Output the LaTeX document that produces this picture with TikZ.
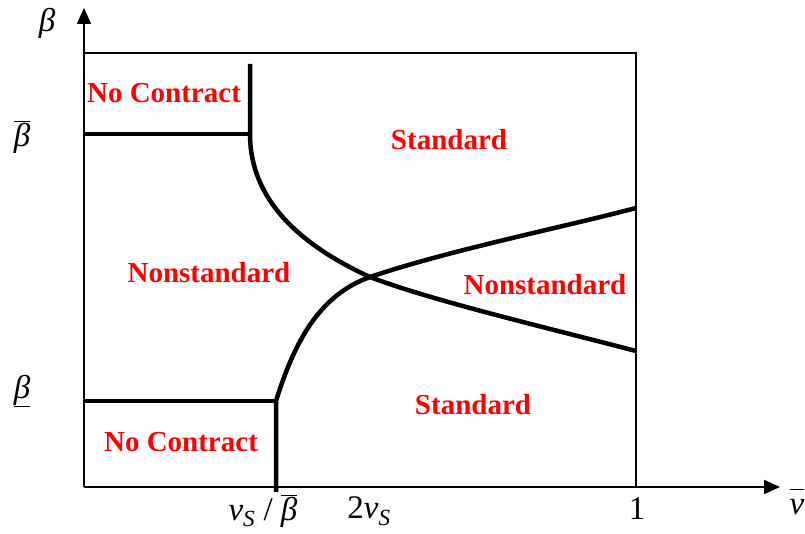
\documentclass[tikz,border=0pt]{standalone}
\usepackage{fontspec}
\setmainfont{Liberation Serif}
\usetikzlibrary{arrows.meta}

\newcommand{\bsym}{\textit{β}}

\begin{document}
\begin{tikzpicture}[x=1pt, y=-1pt,
    region/.style={text=red, inner sep=0pt, font=\fontsize{29}{31}\selectfont\bfseries},
    axlabel/.style={inner sep=0pt, font=\fontsize{33}{35}\selectfont},
    frame/.style={line width=2pt},
    border/.style={line width=4.5pt}]
    \useasboundingbox (0,0) rectangle (805,534);

    % Coordinates
    \coordinate (origin) at (84,487);
    \coordinate (ytip) at (84,8);
    \coordinate (xtip) at (780,487);
    \coordinate (topleft) at (84,53);
    \coordinate (topright) at (636,53);
    \coordinate (botright) at (636,487);
    \coordinate (hiL) at (84,134);
    \coordinate (hiC) at (250,134);
    \coordinate (hiT) at (250,64);
    \coordinate (loL) at (84,401);
    \coordinate (loC) at (276,401);
    \coordinate (loB) at (276,492);
    \coordinate (cross) at (370,277);
    \coordinate (endlow) at (636,351);
    \coordinate (endhigh) at (636,208);

    % Nodes
    \node[region] (nocontracthi) at (164,93) {No Contract};
    \node[region] (standardhi) at (449,140) {Standard};
    \node[region] (nonstdleft) at (209,273) {Nonstandard};
    \node[region] (nonstdright) at (545,285) {Nonstandard};
    \node[region] (standardlo) at (473,405) {Standard};
    \node[region] (nocontractlo) at (181,442) {No Contract};

    \node[axlabel] (ylab) at (47,23) {\bsym};
    \node[axlabel] (betahi) at (22,137) {$\overline{\hbox{\bsym}}$};
    \node[axlabel] (betalo) at (22,391) {\underline{\bsym}};
    \node[axlabel] (vsratio) at (263,511) {\textit{v}\textsubscript{\textit{S}}\ /\ $\overline{\hbox{\bsym}}$};
    \node[axlabel] (twovs) at (369,511) {2\textit{v}\textsubscript{\textit{S}}};
    \node[axlabel] (one) at (637,509) {1};
    \node[axlabel] (xlab) at (797,502) {$\overline{\hbox{\textit{v}}\rule{0pt}{0.72em}}$};

    % Paths
    \draw[frame, -{Triangle[length=16pt,width=14pt]}] (origin) -- (ytip);
    \draw[frame, -{Triangle[length=16pt,width=14pt]}] (origin) -- (xtip);
    \draw[frame] (topleft) -- (topright) -- (botright);

    \draw[border] (hiL) -- (hiC);
    \draw[border] (hiT) -- (hiC)
        .. controls (250,200) and (300,245) .. (cross)
        .. controls (430,300) and (540,326) .. (endlow);
    \draw[border] (loL) -- (loC);
    \draw[border] (loB) -- (loC)
        .. controls (295,340) and (320,295) .. (cross)
        .. controls (450,250) and (560,228) .. (endhigh);
\end{tikzpicture}
\end{document}
